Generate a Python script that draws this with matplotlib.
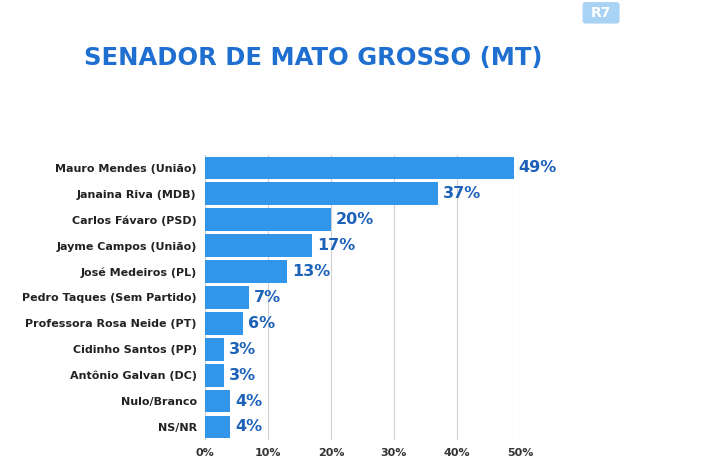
import matplotlib
matplotlib.use("Agg")
import matplotlib.pyplot as plt
from matplotlib.patches import FancyBboxPatch

names = ["Mauro Mendes (União)", "Janaina Riva (MDB)", "Carlos Fávaro (PSD)",
         "Jayme Campos (União)", "José Medeiros (PL)", "Pedro Taques (Sem Partido)",
         "Professora Rosa Neide (PT)", "Cidinho Santos (PP)", "Antônio Galvan (DC)",
         "Nulo/Branco", "NS/NR"]
values = [49, 37, 20, 17, 13, 7, 6, 3, 3, 4, 4]
ticks = [0, 10, 20, 30, 40, 50]

fig = plt.figure(figsize=(7.13, 4.67), dpi=100)
ax = fig.add_axes([0.2875, 0.058, 0.4418, 0.61])
y = list(range(len(names)))
ax.barh(y, values, height=0.88, color="#3196ea", zorder=3)
ax.set_ylim(len(names) - 0.5, -0.5)
ax.set_xlim(0, 50)
ax.set_xticks(ticks)
ax.set_xticklabels([f"{t}%" for t in ticks], fontsize=8, fontweight="bold", color="#333333")
ax.set_yticks(y)
ax.set_yticklabels(names, fontsize=8, fontweight="bold", color="#222222")
ax.tick_params(length=0, pad=6)
ax.grid(axis="x", color="#d0d0d0", linewidth=0.8, zorder=0)
for s in ax.spines.values():
    s.set_visible(False)
for yi, v in zip(y, values):
    ax.text(v + 0.8, yi, f"{v}%", va="center", ha="left", fontsize=11.5,
            fontweight="heavy", color="#1d62b8")

fig.text(0.44, 0.875, "SENADOR DE MATO GROSSO (MT)", ha="center", va="center",
         fontsize=17.5, fontweight="heavy", color="#1f6fd1")
logo = FancyBboxPatch((0.822, 0.955), 0.042, 0.035, boxstyle="round,pad=0.004",
                      transform=fig.transFigure, color="#a9d3f5")
fig.patches.append(logo)
fig.text(0.843, 0.973, "R7", ha="center", va="center", fontsize=10,
         fontweight="bold", color="white")
fig.savefig("out.png", dpi=100)
